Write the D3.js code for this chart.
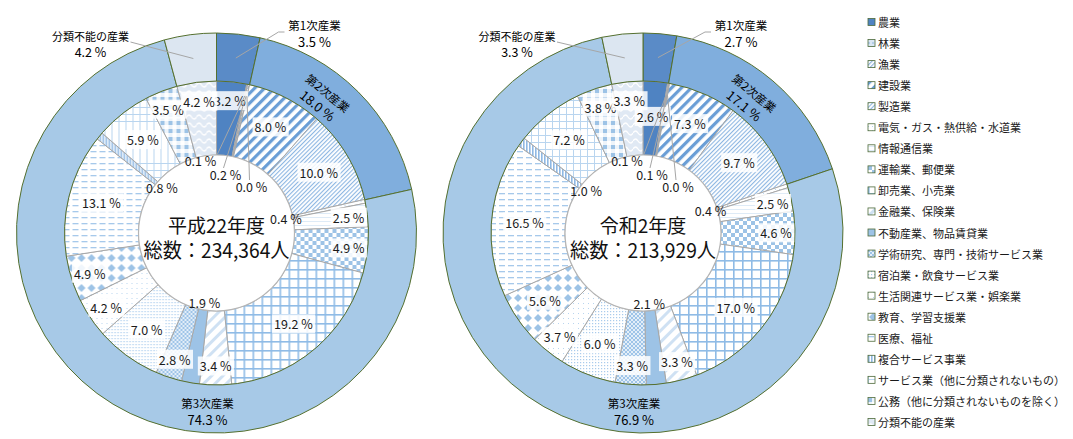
<!DOCTYPE html>
<html><head><meta charset="utf-8">
<script src="https://cdn.jsdelivr.net/npm/d3@7"></script>
<style>
body{margin:0;background:#fff}
svg{display:block}
text{font-family:"Noto Sans CJK JP","Noto Sans",sans-serif}
</style>
</head><body>
<svg id="c" width="1073" height="439"></svg>
<script>
// ---------------- DATA ----------------
const categories = ["農業","林業","漁業","鉱業，採石業，砂利採取業","建設業","製造業","電気・ガス・熱供給・水道業","情報通信業","運輸業、郵便業","卸売業、小売業","金融業、保険業","不動産業、物品賃貸業","学術研究、専門・技術サービス業","宿泊業・飲食サービス業","生活関連サービス業・娯楽業","教育、学習支援業","医療、福祉","複合サービス事業","サービス業（他に分類されないもの）","公務（他に分類されないものを除く）","分類不能の産業"];
const legendItems = ["農業","林業","漁業","建設業","製造業","電気・ガス・熱供給・水道業","情報通信業","運輸業、郵便業","卸売業、小売業","金融業、保険業","不動産業、物品賃貸業","学術研究、専門・技術サービス業","宿泊業・飲食サービス業","生活関連サービス業・娯楽業","教育、学習支援業","医療、福祉","複合サービス事業","サービス業（他に分類されないもの）","公務（他に分類されないものを除く）","分類不能の産業"];
const valuesH22 = [3.2,0.1,0.2,0.0,8.0,10.0,0.4,2.5,4.9,19.2,3.4,1.9,2.8,7.0,4.2,4.9,13.1,0.8,5.9,3.5,4.2];
const valuesR2  = [2.6,0.1,0.1,0.0,7.3,9.7,0.4,2.5,4.6,17.0,3.3,2.1,3.3,6.0,3.7,5.6,16.5,1.0,7.2,3.8,3.3];
const sectorCats = ["第1次産業","第2次産業","第3次産業","分類不能の産業"];
const sectorH22 = [3.5,18.0,74.3,4.2];
const sectorR2  = [2.7,17.1,76.9,3.3];
const yearLabels = ["平成22年度","令和2年度"];
const totalLabels = ["総数：234,364人","総数：213,929人"];

// ---------------- LAYOUT ----------------
const svg = d3.select("#c");
const CY = 233, R_OUT = 200, R_MID = 152, R_HOLE = 78;
const defs = svg.append("defs");

function pat(id, w, h, bg, build, rot) {
  const p = defs.append("pattern").attr("id", id).attr("patternUnits","userSpaceOnUse")
    .attr("width", w).attr("height", h);
  if (rot) p.attr("patternTransform", `rotate(${rot})`);
  p.append("rect").attr("width", w).attr("height", h).attr("fill", bg);
  build(p);
}
const B1 = "#9dc3e6", B2 = "#b9d5ef", B3 = "#d6e6f5";
pat("p1",4,4,"#d9e6f3",p=>p.append("rect").attr("width",2).attr("height",2).attr("fill","#b3cde9"));
pat("p2",3,3,"#fff",p=>p.append("rect").attr("width",1.2).attr("height",3).attr("fill","#8fb4de"),45);
pat("p3",4,4,"#c3d7ee",p=>{});
pat("p4",7,7,"#fff",p=>p.append("rect").attr("width",3.2).attr("height",7).attr("fill","#6a9ed6"),45);
pat("p5",3,3,"#fff",p=>p.append("rect").attr("width",1.1).attr("height",3).attr("fill","#8cb6e2"),45);
pat("p6",4,4,"#fff",p=>p.append("rect").attr("width",1).attr("height",1).attr("fill",B2));
pat("p7",4,4,"#fff",p=>p.append("rect").attr("width",4).attr("height",0.8).attr("fill",B3));
pat("p8",8,8,"#fff",p=>{p.append("rect").attr("width",4).attr("height",4).attr("fill",B1);p.append("rect").attr("x",4).attr("y",4).attr("width",4).attr("height",4).attr("fill",B1);});
pat("p9",9,9,"#fff",p=>{p.append("rect").attr("width",1.6).attr("height",9).attr("fill","#8fbbe6");p.append("rect").attr("width",9).attr("height",1.6).attr("fill","#8fbbe6");});
pat("p10",8,8,"#fff",p=>p.append("rect").attr("width",3).attr("height",8).attr("fill","#cfe1f3"),45);
pat("p12",4,4,"#e3eef8",p=>{p.append("rect").attr("width",2).attr("height",2).attr("fill","#9ec4e8");p.append("rect").attr("x",2).attr("y",2).attr("width",2).attr("height",2).attr("fill","#9ec4e8");});
pat("p13",3,3,"#fff",p=>p.append("rect").attr("width",1.2).attr("height",1.2).attr("fill","#a9cbec"));
pat("p14",5,5,"#fff",p=>p.append("rect").attr("width",1).attr("height",1).attr("fill",B2));
pat("p15",10,10,"#fff",p=>p.append("polygon").attr("points","5,1 9,5 5,9 1,5").attr("fill",B1));
pat("p16",9,6,"#fff",p=>p.append("rect").attr("y",2).attr("width",6).attr("height",1.3).attr("fill","#a6c9eb"));
pat("p17",3,3,"#fff",p=>p.append("rect").attr("width",1.6).attr("height",3).attr("fill","#8fb8e3"));
pat("p18",7,7,"#fff",p=>{p.append("rect").attr("width",7).attr("height",1).attr("fill",B2);p.append("rect").attr("width",1).attr("height",7).attr("fill",B2);});
pat("p19",8,8,"#eef4fa",p=>{p.append("rect").attr("width",4).attr("height",4).attr("fill",B1);p.append("rect").attr("x",4).attr("y",4).attr("width",4).attr("height",4).attr("fill","#fff");});
pat("p20",10,8,"#e0e9f4",p=>p.append("path").attr("d","M0,4 Q2.5,0 5,4 T10,4").attr("fill","none").attr("stroke","#fff").attr("stroke-width",1.3));

const fills = categories.map((c,i)=> i===0 ? "#4f83c2" : i===11 ? B1 : `url(#p${i})`);
const sectorColors = ["#5a8bc7","#80aedd","#a7c9e7","#dce6f1"];

const pie = d3.pie().sort(null).value(d=>d);
const arcInner = d3.arc().innerRadius(R_HOLE).outerRadius(R_MID);
const arcOuter = d3.arc().innerRadius(R_MID).outerRadius(R_OUT);
const TINY_POS = [[-16,-73],[9,-59],[35,-47]];

function labelBox(g, x, y, txt, size, bg) {
  const t = g.append("text").attr("x",x).attr("y",y).attr("text-anchor","middle")
    .attr("dominant-baseline","central").attr("font-size",size).attr("fill","#1a1a1a").text(txt);
  if (bg) {
    const b = t.node().getBBox();
    g.insert("rect", () => t.node()).attr("x",b.x-2).attr("y",b.y).attr("width",b.width+4)
      .attr("height",b.height).attr("fill","#fff").attr("fill-opacity",0.85);
  }
  return t;
}

function donut(cx, values, sectors, year, total) {
  const g = svg.append("g").attr("transform",`translate(${cx},${CY})`);
  const ai = pie(values), ao = pie(sectors);
  g.selectAll("path.in").data(ai).join("path").attr("class","in")
    .attr("d",arcInner).attr("fill",(d,i)=>fills[i]).attr("stroke","#a8a8a8").attr("stroke-width",1);
  g.selectAll("path.out").data(ao).join("path").attr("class","out")
    .attr("d",arcOuter).attr("fill",(d,i)=>sectorColors[i]).attr("stroke","#55702f").attr("stroke-width",1);
  g.append("circle").attr("r",R_HOLE).attr("fill","#fff").attr("stroke","#b5b5b5").attr("stroke-width",1.2);

  // inner labels
  let ti = 0;
  const lg = g.append("g");
  ai.forEach((d,i)=>{
    const m = (d.startAngle+d.endAngle)/2;
    const txt = d.value.toFixed(1)+" %";
    let x, y;
    if (d.value < 0.3) {
      [x,y] = TINY_POS[ti++];
      const px = Math.sin(m)*140, py = -Math.cos(m)*140;
      lg.append("line").attr("x1",x+(x<0?17:-2)).attr("y1",y-6).attr("x2",px).attr("y2",py)
        .attr("stroke","#a6a6a6").attr("stroke-width",1);
      labelBox(lg,x,y,txt,12.5,false);
    } else if (d.value < 2.2) {
      x = Math.sin(m)*71; y = -Math.cos(m)*71;
      labelBox(lg,x,y,txt,12.5,false);
    } else {
      const r = (i === 0 && d.value < 3) ? 117 : (d.value < 5 ? 133 : 119);
      x = Math.sin(m)*r; y = -Math.cos(m)*r;
      labelBox(lg,x,y,txt,12.5,true);
    }
  });

  // sector labels
  const m0 = (ao[0].startAngle+ao[0].endAngle)/2;
  g.append("polyline").attr("points",`${Math.sin(m0)*176},${-Math.cos(m0)*176} ${62},${32-CY} ${68},${32-CY}`)
    .attr("fill","none").attr("stroke","#a6a6a6");
  g.append("text").attr("x",98).attr("y",25-CY).attr("text-anchor","middle").attr("dominant-baseline","central").attr("font-size",11.5).text(sectorCats[0]);
  g.append("text").attr("x",98).attr("y",41-CY).attr("text-anchor","middle").attr("dominant-baseline","central").attr("font-size",13).text(ao[0].value.toFixed(1)+" %");

  const m3 = (ao[3].startAngle+ao[3].endAngle)/2;
  g.append("line").attr("x1",Math.sin(m3)*176).attr("y1",-Math.cos(m3)*176).attr("x2",-86).attr("y2",42-CY)
    .attr("stroke","#a6a6a6");
  g.append("text").attr("x",-126).attr("y",36-CY).attr("text-anchor","middle").attr("dominant-baseline","central").attr("font-size",11).text(sectorCats[3]);
  g.append("text").attr("x",-126).attr("y",51.5-CY).attr("text-anchor","middle").attr("dominant-baseline","central").attr("font-size",12.5).text(ao[3].value.toFixed(1)+" %");

  const a2 = 38.5*Math.PI/180;
  const s2 = g.append("g").attr("transform",`translate(${Math.sin(a2)*171},${-Math.cos(a2)*171}) rotate(39)`);
  s2.append("text").attr("y",-8).attr("text-anchor","middle").attr("dominant-baseline","central").attr("font-size",11.5).text(sectorCats[1]);
  s2.append("text").attr("y",8).attr("text-anchor","middle").attr("dominant-baseline","central").attr("font-size",13).text(ao[1].value.toFixed(1)+" %");

  g.append("text").attr("x",-9).attr("y",403-CY).attr("text-anchor","middle").attr("dominant-baseline","central").attr("font-size",11.5).text(sectorCats[2]);
  g.append("text").attr("x",-9).attr("y",419-CY).attr("text-anchor","middle").attr("dominant-baseline","central").attr("font-size",13).text(ao[2].value.toFixed(1)+" %");

  // center
  g.append("text").attr("y",0).attr("text-anchor","middle").attr("font-size",19).attr("fill","#111").text(year);
  g.append("text").attr("y",25).attr("text-anchor","middle").attr("font-size",20.5).attr("fill","#111")
    .attr("textLength",146).attr("lengthAdjust","spacingAndGlyphs").text(total);
}

donut(216.5, valuesH22, sectorH22, yearLabels[0], totalLabels[0]);
donut(643, valuesR2, sectorR2, yearLabels[1], totalLabels[1]);

// legend
const lgd = svg.append("g").attr("transform","translate(868,22)");
legendItems.forEach((c,j)=>{
  const i = categories.indexOf(c);
  const y = j*21.05;
  lgd.append("rect").attr("x",0).attr("y",y-3.5).attr("width",7).attr("height",7)
    .attr("fill",fills[i]).attr("stroke","#4d6a3a").attr("stroke-width",0.8);
  lgd.append("text").attr("x",10).attr("y",y).attr("dominant-baseline","central")
    .attr("font-size",11).attr("fill","#1a1a1a").text(c);
});
</script>
</body></html>
